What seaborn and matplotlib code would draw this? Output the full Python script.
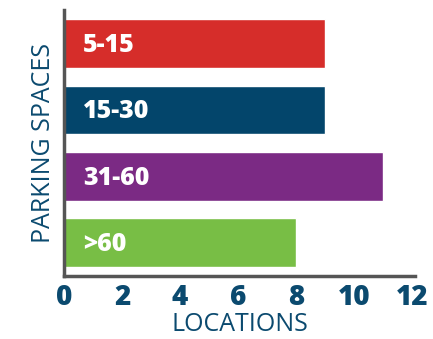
import matplotlib
matplotlib.use("Agg")
import matplotlib.pyplot as plt
import seaborn as sns
import pandas as pd

# Data
categories = ["5-15", "15-30", "31-60", ">60"]
locations = [9, 9, 11, 8]
bar_colors = ["#D62D2A", "#03456B", "#7B2A84", "#78BE45"]

navy = "#0B4A6F"

sns.set_theme(style="white")
plt.rcParams["font.family"] = ["Open Sans", "DejaVu Sans"]

df = pd.DataFrame({"spaces": categories, "locations": locations})

fig = plt.figure(figsize=(4.33, 3.39), dpi=100)
ax = fig.add_axes([0.148, 0.186, 0.81, 0.784])

sns.barplot(data=df, x="locations", y="spaces", hue="spaces",
            palette=bar_colors, order=categories, hue_order=categories,
            width=0.73, saturation=1, legend=False, ax=ax)

# labels inside bars
for i, cat in enumerate(categories):
    ax.text(0.65, i + 0.03, cat, color="white", fontsize=18, fontweight=800,
            va="center", ha="left")

ax.set_xlim(0, 12.1)
ax.set_ylim(3.5, -0.5)
ax.set_xticks(range(0, 13, 2))
ax.set_yticks([])
ax.tick_params(axis="x", direction="in", length=4, width=2, color="#222222",
               labelsize=20, labelcolor=navy, pad=5)
for lbl in ax.get_xticklabels():
    lbl.set_fontweight(800)

ax.set_xlabel("LOCATIONS", fontsize=18, color=navy, labelpad=0)
ax.set_ylabel("PARKING SPACES", fontsize=18, color=navy, labelpad=6)

for s in ["top", "right"]:
    ax.spines[s].set_visible(False)
for s in ["left", "bottom"]:
    ax.spines[s].set_color("#555555")
    ax.spines[s].set_linewidth(2.5)

fig.savefig("out.png", dpi=100)
